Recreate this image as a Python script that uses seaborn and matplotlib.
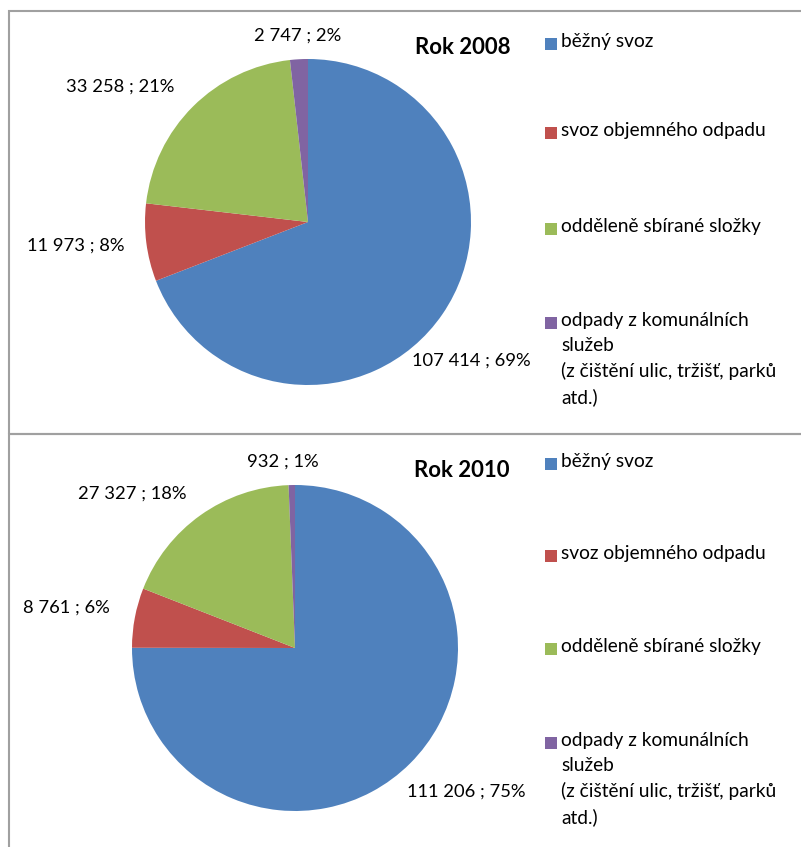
import matplotlib
matplotlib.use("Agg")
import matplotlib.pyplot as plt
import seaborn as sns
from matplotlib.patches import Rectangle

sns.set_theme(style="white")
plt.rcParams['font.family'] = ['Lato', 'DejaVu Sans']

categories = ["běžný svoz", "svoz objemného odpadu", "odděleně sbírané složky",
              "odpady z komunálních\nslužeb\n(z čištění ulic, tržišť, parků\natd.)"]
values_2008 = [107414, 11973, 33258, 2747]
values_2010 = [111206, 8761, 27327, 932]
labels_2008 = ["107 414 ; 69%", "11 973 ; 8%", "33 258 ; 21%", "2 747 ; 2%"]
labels_2010 = ["111 206 ; 75%", "8 761 ; 6%", "27 327 ; 18%", "932 ; 1%"]
titles = ["Rok 2008", "Rok 2010"]
colors = sns.color_palette(["#4F81BD", "#C0504D", "#9BBB59", "#8064A2"])

W, H = 801, 847
fig = plt.figure(figsize=(W / 100, H / 100), dpi=100)

def fx(x):
    return x / W

def fy(y):
    return 1 - y / H

# panel borders
for (y0, y1) in [(11, 434), (434, 860)]:
    fig.patches.append(Rectangle((fx(9), fy(y1)), fx(820 - 9), (y1 - y0) / H,
                                 transform=fig.transFigure, fill=False,
                                 edgecolor="#A0A0A0", linewidth=1.5))

panels = [
    dict(vals=values_2008, labs=labels_2008, title=titles[0], cx=308, cy=222, r=163,
         lab_pos=[(471, 361), (76, 246), (120, 87), (298, 36)], title_pos=(463, 47),
         leg_y=[44, 133, 229, 323]),
    dict(vals=values_2010, labs=labels_2010, title=titles[1], cx=295, cy=648, r=163,
         lab_pos=[(466, 792), (66, 608), (132, 494), (283, 462)], title_pos=(462, 470),
         leg_y=[464, 556, 649, 743]),
]

fs_lab = 13.2
fs_leg = 13.8
for p in panels:
    cx, cy, r = p["cx"], p["cy"], p["r"]
    ax = fig.add_axes([fx(cx - r), fy(cy + r), 2 * r / W, 2 * r / H])
    ax.pie(p["vals"], colors=colors, startangle=90, counterclock=False,
           wedgeprops=dict(linewidth=0))
    ax.set_xlim(-1, 1)
    ax.set_ylim(-1, 1)
    ax.set_aspect("equal")
    ax.axis("off")
    for lab, (lx, ly) in zip(p["labs"], p["lab_pos"]):
        fig.text(fx(lx), fy(ly), lab, ha="center", va="center", fontsize=fs_lab, color="black")
    fig.text(fx(p["title_pos"][0]), fy(p["title_pos"][1]), p["title"], ha="center",
             va="center", fontsize=16, fontweight="bold", color="black")
    for cat, col, ly in zip(categories, colors, p["leg_y"]):
        fig.patches.append(Rectangle((fx(545), fy(ly + 6)), 12 / W, 12 / H,
                                     transform=fig.transFigure, facecolor=col,
                                     edgecolor="none"))
        fig.text(fx(561), fy(ly - 11), cat, ha="left", va="top", fontsize=fs_leg,
                 color="black", linespacing=1.55)

fig.savefig("out.png", dpi=100)
